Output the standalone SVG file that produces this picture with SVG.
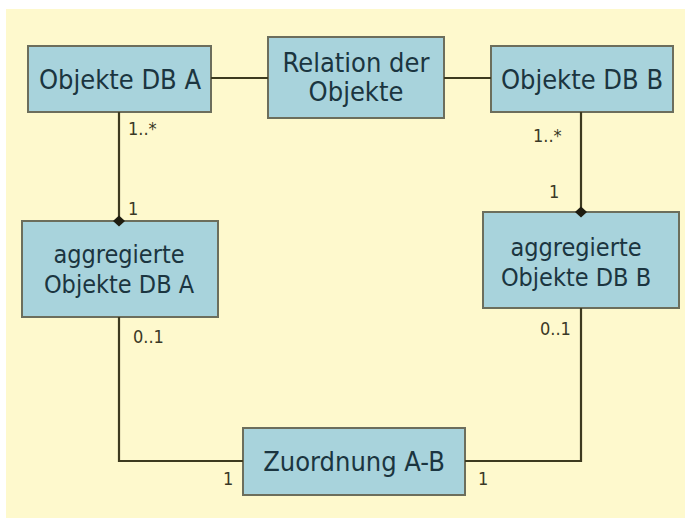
<svg xmlns="http://www.w3.org/2000/svg" width="685" height="518" viewBox="0 0 685 518">
  <style>
    .node rect { fill: #a8d3dc; stroke: #6c6e5c; stroke-width: 2; }
    .node text { font-family: "DejaVu Sans Condensed", "DejaVu Sans", sans-serif; fill: #1b3540; text-anchor: middle; }
    .big { font-size: 27px; }
    .mid { font-size: 25px; }
    .edges path { fill: none; stroke: #3d3a1f; stroke-width: 2.2; }
    .edges polygon { fill: #1e1c10; }
    .mult { font-family: "DejaVu Sans Condensed", "DejaVu Sans", sans-serif; font-size: 18px; fill: #3a3826; }
  </style>

  <!-- page -->
  <rect x="0" y="0" width="685" height="518" fill="#ffffff"/>
  <rect x="6" y="9" width="679" height="509" fill="#fef9cd"/>

  <!-- nodes -->
  <g id="objekte-db-a" class="node">
    <rect x="28" y="46" width="183" height="66"/>
    <text class="big" x="120" y="89">Objekte DB A</text>
  </g>
  <g id="relation" class="node">
    <rect x="268" y="37" width="176" height="81"/>
    <text class="big" x="356" y="72">Relation der</text>
    <text class="big" x="356" y="101">Objekte</text>
  </g>
  <g id="objekte-db-b" class="node">
    <rect x="491" y="46" width="182" height="66"/>
    <text class="big" x="582" y="89">Objekte DB B</text>
  </g>
  <g id="aggregiert-a" class="node">
    <rect x="22" y="221" width="196" height="96"/>
    <text class="mid" x="119" y="263">aggregierte</text>
    <text class="mid" x="119" y="293">Objekte DB A</text>
  </g>
  <g id="aggregiert-b" class="node">
    <rect x="483" y="212" width="196" height="96"/>
    <text class="mid" x="576" y="256">aggregierte</text>
    <text class="mid" x="576" y="286">Objekte DB B</text>
  </g>
  <g id="zuordnung" class="node">
    <rect x="243" y="428" width="222" height="67"/>
    <text class="big" x="354" y="471">Zuordnung A-B</text>
  </g>

  <!-- connectors (drawn over the box borders so the aggregation diamonds show) -->
  <g id="edges" class="edges">
    <path d="M211 78 H268"/>
    <path d="M444 78 H491"/>
    <path d="M119 112 V221"/>
    <path d="M581 112 V212"/>
    <path d="M119 317 V461 H243"/>
    <path d="M581 308 V461 H465"/>
    <polygon points="119,215.5 125,221 119,226.5 113,221"/>
    <polygon points="581,206.5 587,212 581,217.5 575,212"/>
  </g>

  <!-- multiplicities -->
  <g id="multiplicities">
    <text class="mult" x="128" y="135">1..*</text>
    <text class="mult" x="128" y="215">1</text>
    <text class="mult" x="533" y="142">1..*</text>
    <text class="mult" x="549" y="198">1</text>
    <text class="mult" x="133" y="343">0..1</text>
    <text class="mult" x="540" y="335">0..1</text>
    <text class="mult" x="223" y="485">1</text>
    <text class="mult" x="478" y="485">1</text>
  </g>
</svg>
